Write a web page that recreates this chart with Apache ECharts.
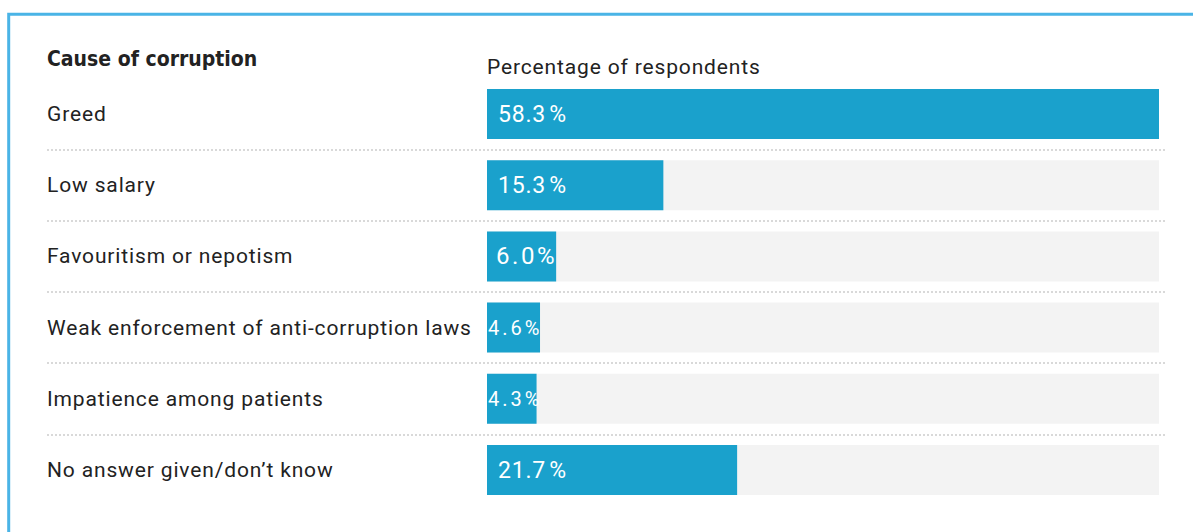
<!DOCTYPE html>
<html>
<head>
<meta charset="utf-8">
<style>
  html, body { margin: 0; padding: 0; background: #ffffff; }
  #chart { width: 1193px; height: 532px; }
  /* widen the tracking of the Roboto texts */
  #chart text { letter-spacing: 0.85px; }
  #chart text[style*="23px"] { letter-spacing: 0.8px; }
  #chart text[style*="24px"] { letter-spacing: 2.6px; }
  #chart text[style*="20px"] { letter-spacing: 3px; }
  #chart text[style*="DejaVu"] { letter-spacing: 0; }
</style>
<script src="https://cdn.jsdelivr.net/npm/echarts@6/dist/echarts.min.js"></script>
</head>
<body>
<div id="chart"></div>
<script>
// Survey: causes of corruption, share of respondents (%)
const causes = [
  'Greed',
  'Low salary',
  'Favouritism or nepotism',
  'Weak enforcement of anti-corruption laws',
  'Impatience among patients',
  'No answer given/don\u2019t know'
];
const shares = [58.3, 15.3, 6.0, 4.6, 4.3, 21.7];
const titleText = 'Cause of corruption';
const axisTitle = 'Percentage of respondents';

const BAR = '#1aa1cc';
const TRACK = '#f3f3f3';
const FRAME = '#4ab4e6';
const TEXT = '#222222';
const FONT = 'Roboto, sans-serif';

// Narrow bars get a tighter label so it stays inside the bar
const barData = shares.map(v => {
  const item = { value: v };
  if (v < 5) {
    item.label = { fontSize: 20, distance: 1, formatter: p => p.value.toFixed(1) + '%' };
  } else if (v < 10) {
    item.label = { fontSize: 24, distance: 9, formatter: p => p.value.toFixed(1) + '%' };
  }
  return item;
});

const chart = echarts.init(document.getElementById('chart'), null, { renderer: 'svg' });

chart.setOption({
  animation: false,
  backgroundColor: '#ffffff',
  graphic: [
    {
      type: 'rect',
      silent: true,
      shape: { x: 8.7, y: 14.2, width: 2000, height: 2000 },
      style: { fill: 'none', stroke: FRAME, lineWidth: 3 }
    },
    {
      type: 'text',
      left: 47, top: 48,
      style: {
        text: titleText,
        fill: TEXT,
        font: 'bold 21px "DejaVu Sans Condensed", "Liberation Sans Narrow", sans-serif'
      }
    },
    {
      type: 'text',
      left: 487, top: 56,
      style: { text: axisTitle, fill: TEXT, font: '21px ' + FONT }
    }
  ],
  grid: [
    { left: 487, right: 34, top: 78.4, bottom: 26.4, containLabel: false },
    // wider grid carrying the dotted row separators
    { left: 47, right: 27, top: 149.6, bottom: 97.6, containLabel: false }
  ],
  xAxis: [
    { type: 'value', gridIndex: 0, min: 0, max: 58.3, show: false },
    { type: 'value', gridIndex: 1, min: 0, max: 1, show: false }
  ],
  yAxis: [
    {
      type: 'category',
      gridIndex: 0,
      data: causes,
      inverse: true,
      axisLine: { show: false },
      axisTick: { show: false },
      splitLine: { show: false },
      axisLabel: {
        align: 'left',
        margin: 440,
        color: TEXT,
        fontFamily: FONT,
        fontSize: 21,
        padding: [4, 0, 0, 0]
      }
    },
    {
      type: 'value',
      gridIndex: 1,
      min: 0, max: 4, interval: 1,
      axisLine: { show: false },
      axisTick: { show: false },
      axisLabel: { show: false },
      splitLine: {
        show: true,
        lineStyle: { color: '#d9d9d9', width: 2, type: [2, 2] }
      }
    }
  ],
  series: [
    {
      type: 'bar',
      xAxisIndex: 0,
      yAxisIndex: 0,
      data: barData,
      barWidth: 50,
      itemStyle: { color: BAR },
      showBackground: true,
      backgroundStyle: { color: TRACK },
      label: {
        show: true,
        position: 'insideLeft',
        distance: 11,
        color: '#ffffff',
        fontFamily: FONT,
        fontSize: 23,
        // hair space before the percent sign
        formatter: p => p.value.toFixed(1) + '\u200A%'
      }
    }
  ]
});
</script>
</body>
</html>
